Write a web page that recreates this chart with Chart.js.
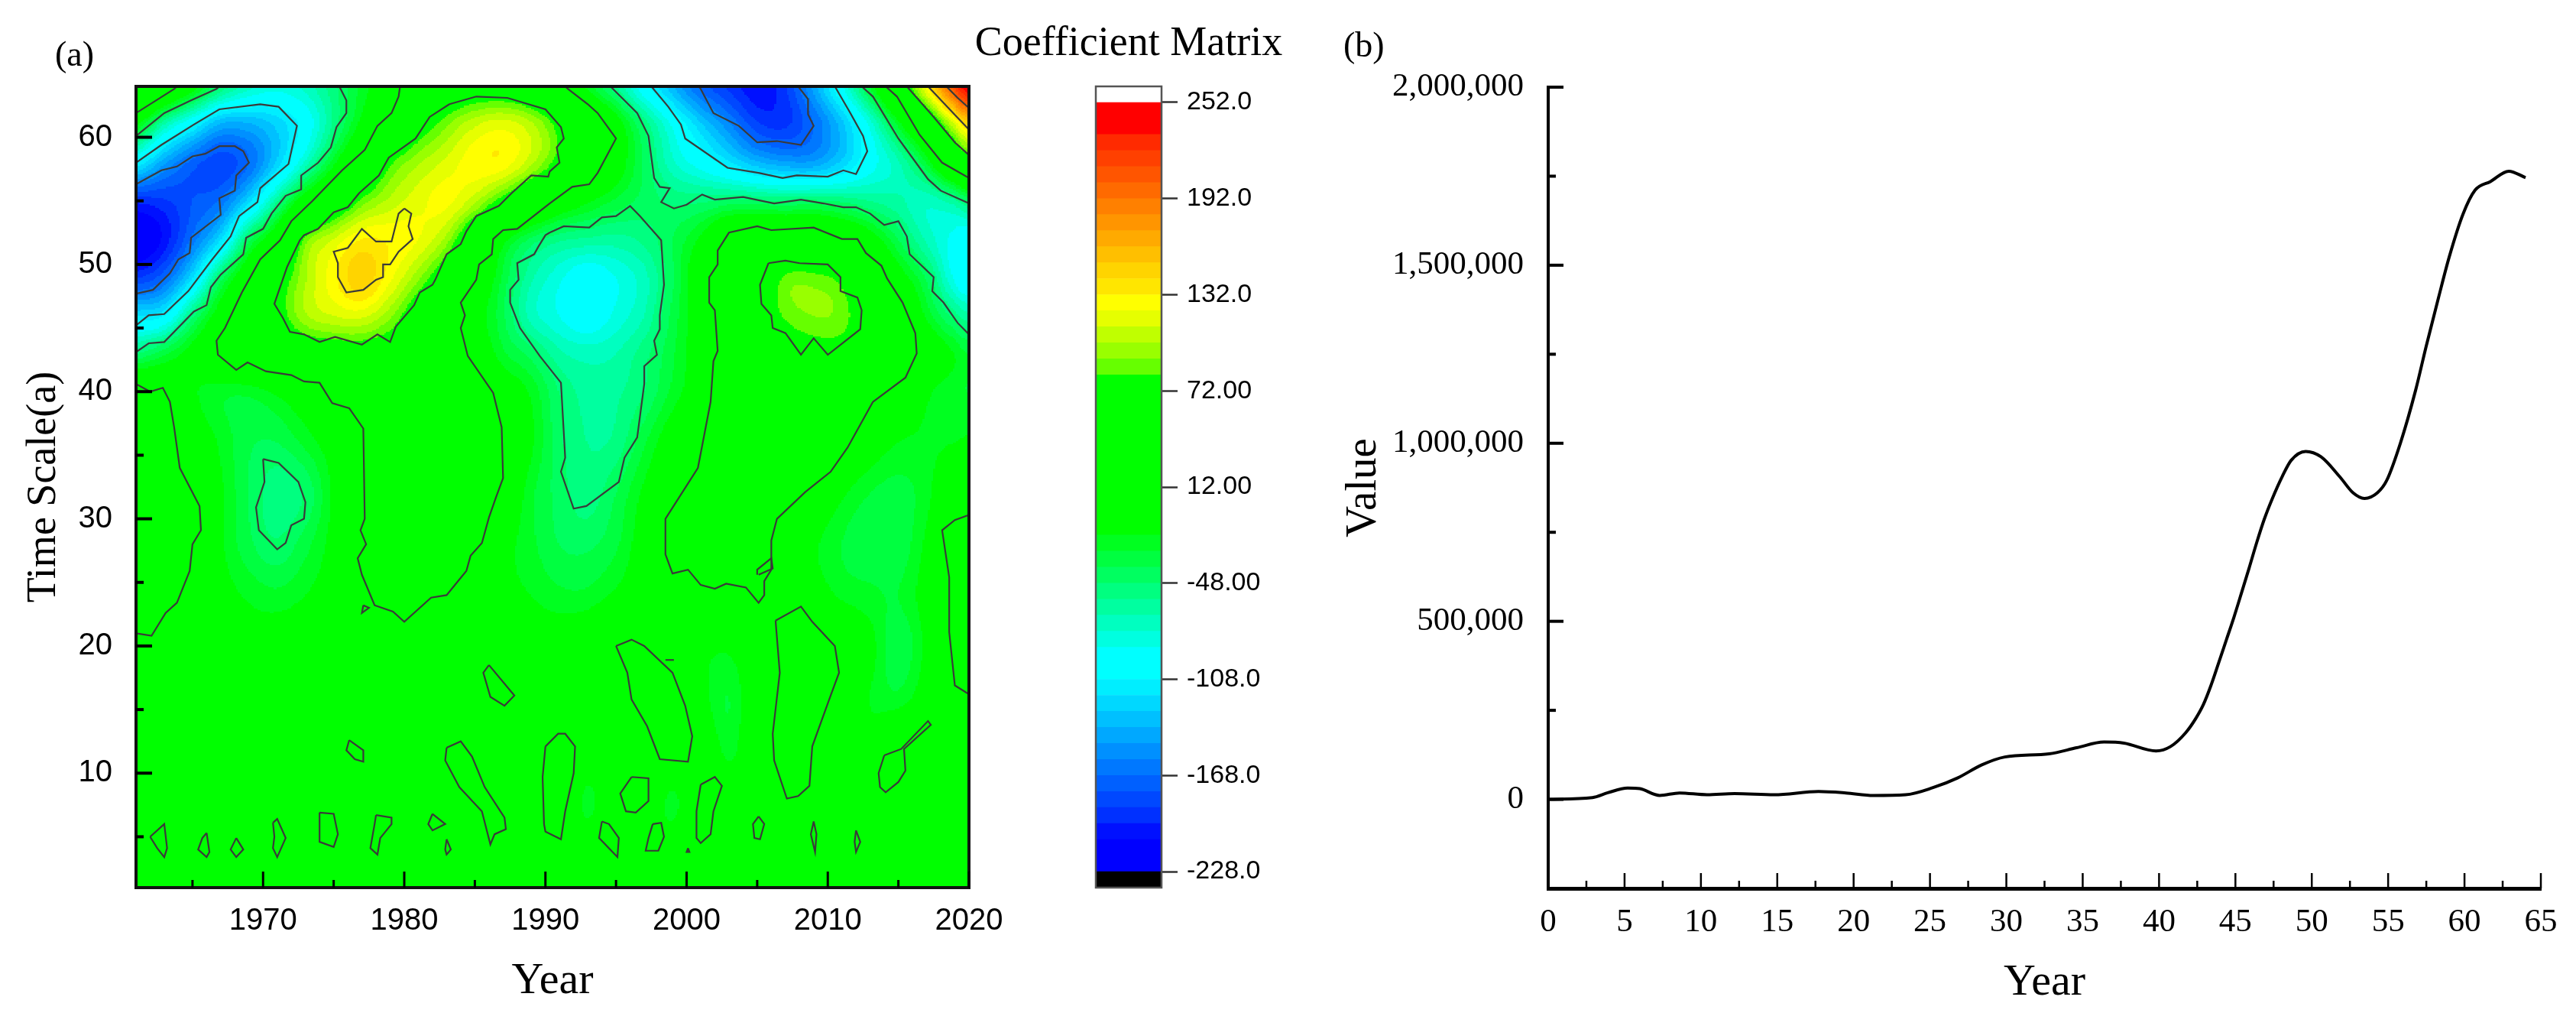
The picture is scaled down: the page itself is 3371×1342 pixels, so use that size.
<!DOCTYPE html>
<html><head><meta charset="utf-8">
<style>html,body{margin:0;padding:0;background:#fff;width:3371px;height:1342px;overflow:hidden}
canvas{position:absolute;top:0}</style>
<script src="https://cdn.jsdelivr.net/npm/chart.js@4"></script>
</head><body>
<canvas id="panelA" width="1400" height="1342" style="left:0"></canvas>
<canvas id="scaleBar" width="500" height="1342" style="left:1270px"></canvas>
<canvas id="panelB" width="1631" height="1342" style="left:1740px"></canvas>
<script>
// ---------- panel (a): coefficient field ----------
const yearCols=[1961,1963,1965,1967,1969,1971,1973,1975,1977,1979,1981,1983,1985,1987,1989,1991,1993,1995,1997,1999,2001,2003,2005,2007,2009,2011,2013,2015,2017,2019,2020];
const scaleRows=[64,61,58,55,52,49,46,43,40,36,32,28,24,20,16,12,8,5,1];
const row64=[45,25,-10,-50,-75,-85,-75,-52,-25,0,30,55,62,62,50,20,-20,-55,-98,-135,-170,-190,-205,-190,-145,-92,-30,45,125,210,245];
const row61=[-15,-68,-105,-140,-140,-125,-100,-55,-12,30,65,90,110,118,105,74,35,-5,-50,-90,-125,-155,-185,-190,-168,-132,-85,-25,35,110,145];
const row58=[-108,-145,-172,-185,-168,-125,-75,-22,30,78,100,115,128,128,105,72,32,-4,-40,-75,-95,-115,-135,-145,-145,-125,-95,-70,-28,35,60];
const row55=[-195,-190,-178,-165,-122,-60,0,45,85,105,118,125,105,72,38,5,-15,-30,-42,-50,-50,-45,-46,-48,-46,-50,-58,-65,-75,-62,-45];
const row52=[-225,-205,-165,-120,-43,7,85,112,132,130,122,98,45,-10,-40,-55,-60,-62,-55,-38,-15,20,30,30,30,18,-5,-38,-70,-92,-100];
const row49=[-190,-170,-120,-45,8,60,100,128,150,125,95,60,15,-30,-65,-85,-100,-88,-72,-40,0,30,50,84,86,75,35,-5,-40,-90,-104];
const row46=[-118,-108,-52,-5,30,68,100,112,115,95,62,35,-5,-35,-72,-88,-100,-85,-68,-35,-5,30,60,84,92,88,60,25,-20,-52,-65];
const row43=[-48,-30,-10,14,30,42,55,62,65,62,50,30,5,-25,-42,-65,-72,-68,-52,-30,-5,18,40,58,70,70,50,28,5,-18,-28];
const row40=[20,5,-15,-25,-25,-15,0,15,30,40,45,40,22,0,-20,-48,-62,-60,-48,-25,-5,18,35,45,50,45,22,5,-15,-25,-28];
const row36=[25,18,-2,-20,-36,-38,-25,-8,11,25,35,35,25,12,-15,-45,-58,-55,-30,-5,11,28,35,35,28,14,-5,-18,-20,-18,-15];
const row32=[30,22,12,-15,-38,-55,-46,-15,11,25,32,32,22,5,-25,-42,-54,-38,-15,5,20,30,28,20,5,-15,-28,-32,-22,5,8];
const row28=[32,22,11,-15,-35,-46,-32,-12,10,25,32,30,16,-10,-25,-38,-40,-30,-8,15,25,28,20,2,-15,-28,-35,-35,-15,18,25];
const row24=[30,20,5,-10,-20,-25,-18,-8,8,20,22,12,0,-12,-18,-25,-25,-15,-5,2,8,9,13,0,-8,-20,-25,-28,-10,16,22];
const row20=[8,5,0,-3,-8,-5,-3,0,3,8,8,5,2,-2,-5,-5,0,12,12,0,-12,-15,2,16,18,8,-12,-35,-15,16,20];
const row16=[2,2,2,2,2,2,3,3,3,-3,2,3,8,15,4,-4,-8,5,15,16,-10,-28,0,16,18,0,-18,-25,-8,5,10];
const row12=[3,3,3,3,-5,-3,-3,3,13,3,-3,12,8,-6,0,16,0,-6,6,16,5,-22,3,16,12,-10,-12,13,5,0,0];
const row8=[5,5,5,3,0,3,0,3,0,3,0,3,14,-10,-5,18,-22,10,14,-22,14,-5,-8,10,-5,-12,5,14,-5,-12,-8];
const row5=[5,16,3,8,-5,15,-5,14,0,8,0,10,-5,14,-8,14,-10,14,-5,-10,14,-5,14,0,13,-2,8,3,3,3,3];
const row1=[3,3,3,3,3,3,3,3,3,3,3,3,3,3,3,3,3,3,3,3,3,3,3,3,3,3,3,3,3,3,3];
const fieldRows=[row64,row61,row58,row55,row52,row49,row46,row43,row40,row36,row32,row28,row24,row20,row16,row12,row8,row5,row1];

// contour lines [year, time scale]
const lineCorner=[[1961,61.9],[1963.7,63.8],[1963.9,64]];
const lineTopLeft=[[1961,60.1],[1963,61.9],[1964.9,62.9],[1966.7,63.8],[1966.9,64]];
const lineBlueOuter=[[1961,58],[1962.8,59.4],[1965.1,61],[1966.9,62.2],[1969.8,62.6],[1971.1,62.4],[1972.4,60.9],[1971.8,57.9],[1969.8,56],[1969.6,54.9],[1968.3,53.8],[1967.7,52.2],[1966.4,50.4],[1964.7,47.9],[1963,46.1],[1961.9,46],[1961,45.2]];
const lineBlueInner=[[1961,56.3],[1962.8,57.4],[1963.9,57.7],[1965,58.5],[1965.9,58.7],[1966.9,59.3],[1968,59.3],[1968.6,58.9],[1969,58],[1968.1,57],[1968,55.8],[1966.9,55.2],[1967,53.9],[1964.9,52.1],[1964.8,50.9],[1964,50.4],[1963.4,49.3],[1962.2,48],[1961,47.7]];
const lineDiagonal=[[1975.4,64],[1975.9,62.9],[1975.9,61.9],[1975.2,60.8],[1974.8,59.2],[1973.9,58],[1972.7,57],[1972.7,55.9],[1971.6,55.4],[1970.6,54],[1970,52.8],[1968.8,52.1],[1968.6,50.8],[1967,49.2],[1966.3,48.2],[1966,46.8],[1965.1,46.3],[1963,43.9],[1961.9,43.8],[1961,43.1]];
const lineLongLeft=[[1979.7,64],[1979.6,63.2],[1979.1,61.9],[1978.1,60.9],[1977.2,59],[1975.6,57.4],[1973.5,55],[1972,53.4],[1971.2,51.9],[1969.8,50.4],[1968.5,47.8],[1967.3,45],[1966.7,44],[1966.8,42.9],[1968.1,41.7],[1968.9,42.3],[1970.2,41.6],[1972,41.3],[1972.9,40.8],[1974,40.7],[1974.9,39.1],[1976.1,38.7],[1977.1,37.1],[1977.2,30],[1976.9,29.1],[1977.3,28],[1976.7,26.9],[1977,25.6],[1977.9,23.2],[1979.2,22.7],[1980,21.9],[1981.9,23.8],[1983,24],[1984.4,25.9],[1984.7,27.1],[1985.5,28.1],[1986,30.1],[1986.5,31.7],[1987,33.2],[1986.9,37.2],[1986.3,39.9],[1984.5,42.8],[1984,45],[1984.3,46],[1984,47],[1985.1,48.8],[1985.3,50],[1986.2,50.8],[1986.3,52],[1987,52.7],[1988,52.8],[1990.3,54.8],[1991.9,56.1],[1993.1,56.3],[1993.7,57.2],[1995,59.9],[1993.7,61.9],[1993,62.6],[1991.6,63.8],[1991.4,64]];
const lineYellowOuter=[[1983.2,62.6],[1985.1,63.2],[1987.3,63.1],[1990,62.2],[1991.1,60.8],[1991.3,59.9],[1990.8,59.2],[1991,58],[1990.3,57.3],[1990.2,56.9],[1989,57],[1987.6,55.6],[1986.7,54.6],[1985.1,53.8],[1984.4,52.6],[1984,51.6],[1983,50.8],[1982.2,48.8],[1982,48.4],[1981.1,47.8],[1980.7,46.8],[1979.4,45.1],[1979,43.9],[1978.1,44.5],[1977,43.7],[1975.1,44.3],[1974,43.9],[1972.9,44.5],[1971.9,44.7],[1971.4,45.8],[1970.8,46.9],[1971.7,49.8],[1972.6,51.9],[1972.9,52.3],[1973.9,52.8],[1975,54.1],[1976,54.5],[1976.8,55.6],[1978.2,57],[1978.9,58.4],[1980.8,59.9],[1981.8,61.6],[1983.2,62.6]];
const lineYellowInner=[[1980,54.4],[1980.5,54],[1980.3,53],[1980.6,52],[1979.6,51],[1979,50],[1978.5,50],[1978.5,49],[1978,48.8],[1977.1,48],[1975.9,47.8],[1975.3,49],[1975.3,50.1],[1975,51],[1976,51.3],[1977,52.8],[1978,51.8],[1979.1,51.8],[1979.6,54],[1980,54.4]];
const lineCyanBlob=[[1990.3,52.5],[1991.3,53],[1993.1,52.9],[1994,53.7],[1995,53.8],[1996,54.6],[1996.7,53.8],[1998.2,51.9],[1998.4,48.4],[1998.1,46],[1998.1,44.9],[1997.7,44],[1997.9,42.9],[1997,42],[1997,40.6],[1996.5,36.4],[1995.6,34.8],[1995.2,32.9],[1992.9,31],[1992,30.8],[1991.1,33.7],[1991.4,34.8],[1991.1,40.7],[1989.6,42.8],[1988.2,45],[1987.5,47],[1987.5,48],[1988.1,48.8],[1988,50.1],[1989.2,50.8],[1989.5,51.4],[1990,52.3],[1990.3,52.5]];
const lineMidRight=[[1994.6,64],[1996.5,61.9],[1997.3,60.1],[1997.7,56.8],[1998.1,56.1],[1998.8,56],[1998.2,54.9],[1999.1,54.4],[2000,54.7],[2001.1,55.5],[2002,55.1],[2004,55.3],[2006.2,54.8],[2008.1,55.1],[2009.7,54.8],[2011.1,54.5],[2012,54.5],[2013,54],[2014,53.1],[2015,53.4],[2015.6,52.2],[2015.8,50.8],[2017.5,49],[2017.4,47.9],[2018.2,47],[2019.2,45.4],[2020,44.5]];
const lineBlueTopOuter=[[1997.5,64],[1998.7,62.4],[1999.6,61],[1999.9,59.9],[2002.9,57.6],[2005.1,57.2],[2006.8,56.8],[2007.8,57],[2010,56.9],[2011.1,57.4],[2012,57.1],[2012.8,58.9],[2012.5,60.1],[2011.6,61.9],[2010.5,64]];
const lineBlueTopInner=[[2000.9,64],[2001.9,61.9],[2003.7,60.9],[2005,59.6],[2006.4,59.7],[2008.1,59.4],[2009,60.9],[2008.6,61.8],[2008.6,63],[2007.9,64]];
const lineCornerA=[[2012.4,64],[2013.2,63.2],[2015,59.9],[2017.1,56.7],[2018,55.8],[2020,54.8]];
const lineCornerB=[[2014.1,64],[2014.9,63.2],[2016.5,60.2],[2018.1,58],[2020,56.8]];
const lineCornerC=[[2015.6,64],[2017.5,61.6],[2019,59.6],[2020,58.6]];
const lineCornerD=[[2017.1,64],[2018.8,62],[2020,60.6]];
const lineCornerE=[[2018.4,64],[2019.2,63.1],[2020,62.3]];
const lineRightBig=[[2013.2,39.2],[2015.5,41.1],[2016.3,43],[2016.2,44.6],[2015.3,47],[2014.2,48.9],[2013.8,49.9],[2012.7,50.9],[2012.1,52],[2011,52],[2009,52.9],[2006,52.7],[2005,53],[2003,52.5],[2002.2,51.1],[2002.2,50],[2001.6,49],[2001.6,47],[2002,46.4],[2002.2,43.2],[2001.9,42.4],[2001.7,39.2],[2000.8,34],[1998.5,30],[1998.5,27.2],[1999,25.7],[2000.1,26],[2001,24.8],[2002,24.5],[2002.8,24.9],[2004.2,24.6],[2005.1,23.4],[2005.5,24],[2005.5,25.1],[2006,26],[2006,28.3],[2006.4,30],[2008.4,32.1],[2010.2,33.7],[2011.4,35.6],[2013.2,39.2]];
const lineHook=[[2005,25.6],[2005,26],[2006,26.9],[2006.1,26.1],[2005.1,25.6]];
const lineLeftEdge=[[1961,40.6],[1962,40],[1962.9,40.3],[1963.4,39.2],[1963.7,37.2],[1964.1,34],[1965.5,31],[1965.6,29.1],[1965,28],[1964.8,25.9],[1963.9,23.4],[1963.1,22.6],[1962.1,20.8],[1961,21]];
const lineBlob1971=[[1970,34.7],[1971.1,34.4],[1972.5,32.9],[1973,31.3],[1972.9,30],[1972,29.5],[1971.6,28.1],[1971,27.6],[1969.7,29.1],[1969.5,30.9],[1970.1,32.9],[1970,34.7]];
const lineRightEdge=[[2020,30.3],[2019,29.9],[2018.1,29.1],[2018.6,25.4],[2018.6,21.1],[2019,16.9],[2020,16.2]];
const lineLoop2008=[[2006.3,22],[2008.1,23.1],[2008.9,21.9],[2010.5,20],[2010.8,17.9],[2010.2,16.1],[2008.9,12.1],[2008.7,9],[2007.9,8.2],[2007.1,8],[2006.2,11],[2006.1,13.1],[2006.6,17.9],[2006.3,22]];
const lineLoop1997=[[1995,20],[1996.1,20.5],[1997,20],[1999,17.9],[1999.9,15.3],[2000.4,12.9],[2000.1,10.9],[1998.1,11.1],[1997.2,13.7],[1996.1,15.8],[1995.8,17.9],[1995,20]];
const lineDash1999=[[1998.5,18.9],[1999.1,18.9]];
const lineLoop1986=[[1986,18.5],[1987.8,16.1],[1987.1,15.3],[1986.1,16],[1985.6,17.9],[1986,18.5]];
const lineLoop1976=[[1976.1,12.6],[1977.1,11.8],[1977.1,10.9],[1976.5,11.1],[1975.9,11.8],[1976.1,12.6]];
const lineLoop1977=[[1977.1,23.2],[1977.5,23],[1977,22.6],[1977.1,23.2]];
const lineLoop1984=[[1983,12],[1984,12.5],[1984.8,11.3],[1985.7,8.9],[1987.1,6.5],[1987.2,5.6],[1986.4,5.2],[1986.1,4.4],[1985.5,7],[1983.9,8.9],[1982.9,11],[1983,12]];
const lineLoop1991=[[1990,12.1],[1990.9,13.1],[1991.4,13.1],[1992.1,12.1],[1992,10],[1991.4,7],[1991.1,4.8],[1990,5.4],[1989.9,6],[1989.8,9.7],[1990,12.1]];
const lineLoop1996=[[1996.1,9.7],[1997.3,9.6],[1997.3,7.8],[1996.4,6.9],[1995.7,7],[1995.3,8.4],[1996.1,9.7]];
const lineLoop2001=[[2001,9.1],[2002,9.7],[2002.5,9],[2001.9,7],[2001.7,5.2],[2001,4.5],[2000.7,4.9],[2000.7,7],[2001,9.1]];
const lineLoop2015=[[2014,11.4],[2015.2,11.9],[2017.1,14.1],[2017.3,13.8],[2015.4,11.9],[2015.5,10.2],[2015,9.3],[2014.1,8.5],[2013.7,8.9],[2013.6,10],[2014,11.4]];
const lineLime=[[2005.8,50.1],[2007,50.3],[2008,50.1],[2010,50],[2010.9,49],[2010.9,47.9],[2012.1,47.4],[2012.4,46.4],[2012.3,44.9],[2010,42.9],[2009,44.2],[2008.1,42.9],[2007,44.6],[2006.1,45],[2006,46],[2005.3,46.9],[2005.2,48.4],[2005.8,50.1]];
const lineSmall=[
[[1962,5],[1963,6],[1963.2,4.1],[1963,3.4],[1962.5,4.1],[1962,5]],
[[1966,5.3],[1966.2,3.8],[1966,3.4],[1965.4,4],[1965.7,4.9],[1966,5.3]],
[[1968.1,4.9],[1968.6,4],[1968.1,3.4],[1967.7,4],[1968.1,4.9]],
[[1970.7,6.1],[1971,6.4],[1971.6,4.9],[1971,3.4],[1970.7,4.1],[1970.8,5],[1970.7,6.1]],
[[1974,6.9],[1975,6.8],[1975.3,5.2],[1975,4.2],[1974,4.6],[1974,6.9]],
[[1978,6.7],[1979.1,6.5],[1979.1,6],[1978.3,4.9],[1978.1,3.6],[1977.6,4.1],[1977.9,6],[1978,6.7]],
[[1982,6.8],[1982.9,6],[1982,5.5],[1981.7,6],[1982,6.8]],
[[1983,4.8],[1983.3,4],[1983,3.6],[1982.9,4],[1983,4.8]],
[[1994,6.2],[1994.5,6],[1995.2,4.9],[1995.1,3.4],[1993.8,4.9],[1994,6.2]],
[[1997.6,6],[1998.2,6.1],[1998.4,5],[1998,3.9],[1997.1,3.9],[1997.3,4.9],[1997.6,6]],
[[2000.1,4.1],[2000.2,3.8],[2000,3.8],[2000.1,4.1]],
[[2005.1,6.6],[2005.5,6],[2005.2,4.8],[2004.8,4.9],[2004.7,6],[2005.1,6.6]],
[[2009,6.2],[2009.2,5.2],[2009.1,3.8],[2008.8,5.2],[2009,6.2]],
[[2012,5.5],[2012.3,4.6],[2012,3.8],[2011.9,4.6],[2012,5.5]]
];
const contourLines=[lineCorner,lineTopLeft,lineBlueOuter,lineBlueInner,lineDiagonal,lineLongLeft,lineYellowOuter,lineYellowInner,lineCyanBlob,lineMidRight,lineBlueTopOuter,lineBlueTopInner,lineCornerA,lineCornerB,lineCornerC,lineCornerD,lineCornerE,lineRightBig,lineHook,lineLeftEdge,lineBlob1971,lineRightEdge,lineLoop2008,lineLoop1997,lineDash1999,lineLoop1986,lineLoop1976,lineLoop1977,lineLoop1984,lineLoop1991,lineLoop1996,lineLoop2001,lineLoop2015,lineLime,...lineSmall];

// ---------- colour scale ----------
const bandStart=-228, bandStep=10;
const bandColors=['#0000ff','#0000ff','#0010ff','#0030ff','#0048ff','#0060ff','#0078ff','#0090ff','#00a8ff','#00c0ff','#00d8ff','#00eeff','#00ffff','#00ffff','#00ffe0','#00ffc0','#00ffa0','#00ff80','#00ff60','#00ff40','#00ff20','#00ff00','#00ff00','#00ff00','#00ff00','#00ff00','#00ff00','#00ff00','#00ff00','#00ff00','#00ff00','#66ff00','#99ff00','#c0ff00','#e6ff00','#ffff00','#ffe600','#ffd400','#ffbf00','#ffaa00','#ff9500','#ff8000','#ff6a00','#ff5500','#ff4000','#ff2a00','#ff0000','#ff0000'];
const barTicks=[252,192,132,72,12,-48,-108,-168,-228];
const barLabels=['252.0','192.0','132.0','72.00','12.00','-48.00','-108.0','-168.0','-228.0'];

// ---------- panel (b) ----------
const curveYears=[0,2.9,3.9,5.2,6,7.3,8.6,10.4,12.2,14.8,17.7,19.5,21.3,23.4,25.2,26.8,28.4,29.9,32.8,34.6,36.4,37.7,39.8,40.74,41.74,42.4,42.9,43.4,43.9,44.4,44.9,45.4,45.9,46.4,46.9,47.4,48.07,48.65,49.6,50.6,51.85,52.7,53.45,54.3,54.9,55.8,56.8,57.5,58.3,59,59.9,60.7,61.7,62.9,64];
const curveValues=[0,5000,18500,32000,30000,11000,18000,13000,16000,13000,22000,18000,11000,13000,33000,60000,97000,119000,128000,145000,161000,158000,136000,148000,187000,227000,266000,320000,383000,447000,511000,580000,650000,722000,788000,843000,907000,952000,977000,962000,905000,861000,845000,861000,895000,1000000,1149000,1274000,1409000,1523000,1643000,1711000,1735000,1764000,1746000];
const bXMajor=[0,5,10,15,20,25,30,35,40,45,50,55,60,65];
const bXMinor=[2.5,7.5,12.5,17.5,22.5,27.5,32.5,37.5,42.5,47.5,52.5,57.5,62.5];
const bYMajor=[0,500000,1000000,1500000,2000000];
const bYMinor=[-250000,250000,750000,1250000,1750000];
const aXMajor=[1970,1980,1990,2000,2010,2020];
const aXMinor=[1965,1975,1985,1995,2005,2015];
const aYMajor=[10,20,30,40,50,60];
const aYMinor=[5,15,25,35,45,55];

const SERIF='"Liberation Serif","Times New Roman",serif';
const SANS='"Liberation Sans",Arial,sans-serif';

function fracIndex(list,v){
  const asc=list[0]<list[list.length-1];
  for(let i=0;i<list.length-1;i++){
    const a=list[i],b=list[i+1];
    if(asc?(v<=b):(v>=b)) return i+(v-a)/(b-a);
  }
  return list.length-1;
}
function cr(p0,p1,p2,p3,t){
  return 0.5*((2*p1)+(-p0+p2)*t+(2*p0-5*p1+4*p2-p3)*t*t+(-p0+3*p1-3*p2+p3)*t*t*t);
}
function fieldAt(year,scale){
  const fx=fracIndex(yearCols,year), fy=fracIndex(scaleRows,scale);
  const ix=Math.min(Math.floor(fx),yearCols.length-2), iy=Math.min(Math.floor(fy),scaleRows.length-2);
  const tx=fx-ix, ty=fy-iy, r=[];
  for(let j=-1;j<=2;j++){
    const row=fieldRows[Math.max(0,Math.min(scaleRows.length-1,iy+j))];
    const g=k=>row[Math.max(0,Math.min(yearCols.length-1,k))];
    r.push(cr(g(ix-1),g(ix),g(ix+1),g(ix+2),tx));
  }
  return cr(r[0],r[1],r[2],r[3],ty);
}
function bandColor(v){
  let k=Math.floor((v-bandStart)/bandStep);
  k=Math.max(0,Math.min(bandColors.length-1,k));
  return bandColors[k];
}
const heatPlugin={id:'heat',beforeDatasetsDraw(chart){
  const {ctx,scales:{x,y}}=chart;
  ctx.save();
  const dx=0.125, dy=0.125;
  for(let yr=1961;yr<2020;yr+=dx){
    const x0=Math.floor(x.getPixelForValue(yr)), x1=Math.ceil(x.getPixelForValue(yr+dx));
    for(let s=1;s<64;s+=dy){
      const y1=Math.ceil(y.getPixelForValue(s)), y0=Math.floor(y.getPixelForValue(s+dy));
      ctx.fillStyle=bandColor(fieldAt(yr+dx/2,s+dy/2));
      ctx.fillRect(x0,y0,x1-x0,y1-y0);
    }
  }
  ctx.restore();
}};
const framePlugin={id:'frame',afterDatasetsDraw(chart,args,o){
  if(!o||!o.color) return;
  const {ctx,chartArea:a}=chart;
  ctx.save();ctx.strokeStyle=o.color;ctx.lineWidth=o.width;
  ctx.strokeRect(a.left,a.top,a.right-a.left,a.bottom-a.top);ctx.restore();
}};
const innerTicks={id:'innerTicks',afterDatasetsDraw(chart,args,o){
  const {ctx,scales:{x,y},chartArea:a}=chart;
  ctx.save();ctx.strokeStyle='#000';
  const seg=(x0,y0,x1,y1,w)=>{ctx.lineWidth=w;ctx.beginPath();ctx.moveTo(x0,y0);ctx.lineTo(x1,y1);ctx.stroke();};
  o.xMajor.forEach(v=>{const p=x.getPixelForValue(v);seg(p,a.bottom,p,a.bottom-o.major,o.xw);});
  o.xMinor.forEach(v=>{const p=x.getPixelForValue(v);seg(p,a.bottom,p,a.bottom-o.minor,o.xw);});
  o.yMajor.forEach(v=>{const p=y.getPixelForValue(v);seg(a.left,p,a.left+o.major,p,o.yw);});
  o.yMinor.forEach(v=>{const p=y.getPixelForValue(v);seg(a.left,p,a.left+o.minor,p,o.yw);});
  ctx.restore();
}};
const tagPlugin={id:'tag',afterDraw(chart,args,o){
  const {ctx}=chart;ctx.save();ctx.fillStyle='#000';ctx.font=(o.size||46)+'px '+SERIF;ctx.textBaseline='middle';ctx.textAlign=o.align||'left';
  ctx.fillText(o.text,o.x,o.y);ctx.restore();
}};
const fixedTicks=list=>s=>{s.ticks=list.map(v=>({value:v}));};

new Chart(document.getElementById('panelA'),{
  type:'scatter',
  data:{datasets:contourLines.map(l=>({data:l.map(p=>({x:p[0],y:p[1]})),showLine:true,pointRadius:0,borderColor:'#3a3a3a',borderWidth:2.2,tension:0}))},
  plugins:[heatPlugin,framePlugin,innerTicks,tagPlugin],
  options:{responsive:false,animation:false,events:[],
    layout:{padding:{right:132,top:113}},
    plugins:{legend:{display:false},tooltip:{enabled:false},
      frame:{color:'#111',width:4},
      innerTicks:{xMajor:aXMajor,xMinor:aXMinor,yMajor:aYMajor,yMinor:aYMinor,major:21,minor:10,xw:3,yw:4},
      tag:{text:'(a)',x:72,y:74}},
    scales:{
      x:{type:'linear',min:1961,max:2020,afterBuildTicks:fixedTicks(aXMajor),afterFit:s=>{s.height=181;},
        grid:{display:false},border:{display:false},
        ticks:{autoSkip:false,maxRotation:0,padding:12,color:'#000',font:{family:SANS,size:40},callback:v=>String(v)},
        title:{display:true,text:'Year',color:'#000',font:{family:SERIF,size:58},padding:{top:0,bottom:23}}},
      y:{type:'linear',min:1,max:64,afterBuildTicks:fixedTicks(aYMajor),afterFit:s=>{s.width=178;},
        grid:{display:false},border:{display:false},
        ticks:{autoSkip:false,padding:23,color:'#000',font:{family:SANS,size:40},callback:v=>String(v)},
        title:{display:true,text:'Time Scale(a)',color:'#000',font:{family:SERIF,size:54},padding:{top:25,bottom:0}}}
    }}
});

const bandData=[{lo:-238,hi:-228,c:'#000000'}];
bandColors.forEach((c,i)=>bandData.push({lo:bandStart+i*bandStep,hi:bandStart+(i+1)*bandStep,c}));
bandData.push({lo:252,hi:262,c:'#ffffff'});
new Chart(document.getElementById('scaleBar'),{
  type:'bar',
  data:{labels:[''],datasets:bandData.map(b=>({data:[[b.lo,b.hi]],backgroundColor:b.c,borderWidth:0,barPercentage:1,categoryPercentage:1,grouped:false}))},
  plugins:[framePlugin,tagPlugin],
  options:{responsive:false,animation:false,events:[],
    layout:{padding:{left:164,bottom:181}},
    plugins:{legend:{display:false},tooltip:{enabled:false},frame:{color:'#555',width:2.5},
      tag:{text:'Coefficient Matrix',x:207,y:58,size:54,align:'center'}},
    scales:{
      x:{position:'top',afterFit:s=>{s.height=113;},grid:{display:false},border:{display:false},ticks:{display:false}},
      y:{position:'right',min:-238,max:262,afterBuildTicks:fixedTicks(barTicks),afterFit:s=>{s.width=250;},
        grid:{drawOnChartArea:false,drawTicks:true,tickLength:21,tickColor:'#333',tickWidth:2.5},border:{display:false},
        ticks:{autoSkip:false,padding:12,color:'#000',font:{family:SANS,size:34},
          callback:v=>barLabels[barTicks.indexOf(v)]}}
    }}
});

new Chart(document.getElementById('panelB'),{
  type:'scatter',
  data:{datasets:[{data:curveYears.map((x,i)=>({x,y:curveValues[i]})),showLine:true,pointRadius:0,borderColor:'#000',borderWidth:4,cubicInterpolationMode:'monotone'}]},
  plugins:[innerTicks,tagPlugin],
  options:{responsive:false,animation:false,events:[],
    layout:{padding:{right:46,top:114}},
    plugins:{legend:{display:false},tooltip:{enabled:false},
      innerTicks:{xMajor:bXMajor,xMinor:bXMinor,yMajor:bYMajor,yMinor:bYMinor,major:20,minor:10,xw:2.5,yw:4},
      tag:{text:'(b)',x:18,y:62}},
    scales:{
      x:{type:'linear',min:0,max:65,afterBuildTicks:fixedTicks(bXMajor),afterFit:s=>{s.height=180;},
        grid:{display:false},border:{display:true,color:'#000',width:5},
        ticks:{autoSkip:false,maxRotation:0,padding:11,color:'#000',font:{family:SERIF,size:43},callback:v=>String(v)},
        title:{display:true,text:'Year',color:'#000',font:{family:SERIF,size:58},padding:{top:0,bottom:21}}},
      y:{type:'linear',min:-250000,max:2000000,afterBuildTicks:fixedTicks(bYMajor),afterFit:s=>{s.width=286;},
        grid:{display:false},border:{display:true,color:'#000',width:4},
        ticks:{autoSkip:false,padding:24,color:'#000',font:{family:SERIF,size:43},callback:v=>Number(v).toLocaleString('en-US')},
        title:{display:true,text:'Value',color:'#000',font:{family:SERIF,size:57},padding:{top:11,bottom:0}}}
    }}
});
</script>
</body></html>
